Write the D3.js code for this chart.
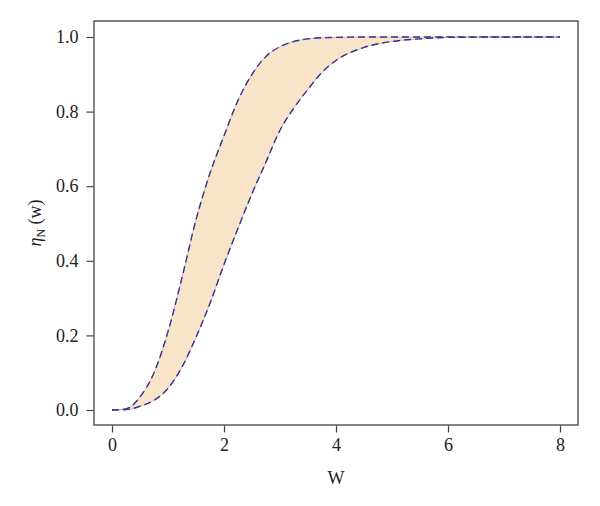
<!DOCTYPE html>
<html><head><meta charset="utf-8">
<script src="https://cdn.jsdelivr.net/npm/d3@7"></script>
<style>
body{margin:0;background:#fff;}
svg text{font-family:"Liberation Serif","Times New Roman",serif;fill:#222;}
</style></head>
<body><svg id="c" width="600" height="506"></svg>
<script>
const wValues = [0,0.25,0.5,0.75,1,1.25,1.5,1.75,2,2.25,2.5,2.75,3,3.25,3.5,3.75,4,4.5,5,5.5,6,7,8];
const upperBound = [0,0.003,0.035,0.10,0.21,0.355,0.51,0.635,0.735,0.83,0.90,0.948,0.974,0.988,0.995,0.998,0.999,1,1,1,1,1,1];
const lowerBound = [0,0.001,0.01,0.026,0.058,0.115,0.195,0.286,0.39,0.487,0.58,0.665,0.75,0.81,0.86,0.905,0.937,0.972,0.988,0.995,0.999,1,1];
const xTicks = [0,2,4,6,8];
const yTicks = [0,0.2,0.4,0.6,0.8,1.0];

const svg = d3.select("#c");
const box = {l:94, r:578, t:21, b:425};
const x = d3.scaleLinear().domain([0,8]).range([112,560]);
const y = d3.scaleLinear().domain([0,1]).range([410,37]);

const pts = wValues.map((w,i)=>({w, hi:upperBound[i], lo:lowerBound[i]}));

svg.append("path").datum(pts)
  .attr("d", d3.area().x(d=>x(d.w)).y0(d=>y(d.lo)).y1(d=>y(d.hi)).curve(d3.curveMonotoneX))
  .attr("fill","#f8e5c9").attr("stroke","none");

["hi","lo"].forEach(k=>{
  const line = d3.line().x(d=>x(d.w)).y(d=>y(d[k])).curve(d3.curveMonotoneX);
  svg.append("path").datum(pts).attr("d",line).attr("fill","none")
    .attr("stroke","#b9b1a6").attr("stroke-width",0.8);
  svg.append("path").datum(pts).attr("d",line).attr("fill","none")
    .attr("stroke","#3a2d8e").attr("stroke-width",1.4).attr("stroke-dasharray","7,4");
});

svg.append("rect").attr("x",box.l).attr("y",box.t).attr("width",box.r-box.l).attr("height",box.b-box.t)
  .attr("fill","none").attr("stroke","#333").attr("stroke-width",1.2);

const ax = svg.append("g").attr("transform",`translate(0,${box.b+0.5})`)
  .call(d3.axisBottom(x).tickValues(xTicks).tickFormat(d3.format("d")).tickSize(7).tickPadding(6));
const ay = svg.append("g").attr("transform",`translate(${box.l-0.5},0)`)
  .call(d3.axisLeft(y).tickValues(yTicks).tickFormat(d3.format(".1f")).tickSize(7).tickPadding(8));
[ax,ay].forEach(g=>{
  g.select(".domain").remove();
  g.selectAll(".tick line").attr("stroke","#444").attr("stroke-width",1.2);
  g.selectAll(".tick text").style("font-size","18px").style("font-family",'"Liberation Serif",serif').attr("fill","#222");
});

svg.append("text").attr("x",336).attr("y",484).attr("text-anchor","middle")
  .style("font-size","18px").text("W");

const yl = svg.append("text").attr("transform","translate(41,223) rotate(-90)").attr("text-anchor","middle")
  .style("font-size","18px");
yl.append("tspan").style("font-style","italic").text("η");
yl.append("tspan").attr("dy",4).style("font-size","12px").text("N");
yl.append("tspan").attr("dy",-4).text(" (w)");
</script></body></html>
